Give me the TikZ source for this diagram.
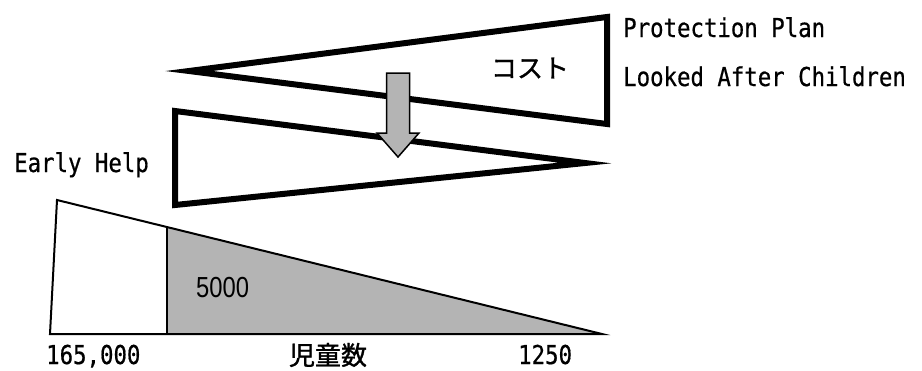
\documentclass[tikz,border=0pt]{standalone}
\usepackage{fontspec}
\newfontfamily\gothicfont[FakeStretch=0.86,FakeBold=0.6]{DejaVu Sans Mono}
\newfontfamily\jpfont[FakeBold=1.2]{Noto Sans CJK JP}
\newfontfamily\numfont[FakeStretch=0.82]{Liberation Sans}
\definecolor{areagray}{RGB}{180,180,180}

\begin{document}
\begin{tikzpicture}
[x=1pt,y=-1pt,
  costdecorate/.style={draw,line width=6pt,line join=miter,miter limit=20},
  countdecorate/.style={draw,line width=2pt,line join=miter,miter limit=20},
  arrowdecorate/.style={draw,fill=areagray,line width=1.5pt,line join=miter},
  labeldecorate/.style={inner sep=0pt,anchor=base west,%
    font=\gothicfont\fontsize{26}{26}\selectfont},
  jpdecorate/.style={inner sep=0pt,font=\jpfont\fontsize{26}{26}\selectfont}]
\useasboundingbox (0,0) rectangle (922,370);
%% number of children
\coordinate (splittop) at (167,227);
\coordinate (splitbottom) at (167,334);
\fill[areagray] (splittop) -- (602,334) -- (splitbottom) -- cycle;
\draw[countdecorate] (57,200) -- (50,334) -- (602,334) -- cycle;
\draw[line width=2pt] (splittop) -- (splitbottom);
%% cost wedges
\draw[costdecorate] (189,71) -- (607,17) -- (607,124) -- cycle;
\draw[costdecorate] (175,111) -- (585,163) -- (175,205) -- cycle;
%% shift arrow
\draw[arrowdecorate] (386.5,73) -- (409.5,73) -- (409.5,133) -- (419,133)
  -- (398,157) -- (377,133) -- (386.5,133) -- cycle;
%% labels
\foreach \nodename/\x/\y/\labeltext in {plan/623/37/Protection Plan,
  looked/623/86/Looked After Children, early/14/172/Early Help,
  high/46/364/{165,000}, low/518/364/1250} {
  \node[labeldecorate] (\nodename) at (\x,\y) {\labeltext};
}
\node[jpdecorate] (cost) at (530,68) {コスト};
\node[jpdecorate] (children) at (328,355) {児童数};
\node[inner sep=0pt,anchor=base west,font=\numfont\fontsize{29}{29}\selectfont]
  (share) at (196,297) {5000};
\end{tikzpicture}
\end{document}
